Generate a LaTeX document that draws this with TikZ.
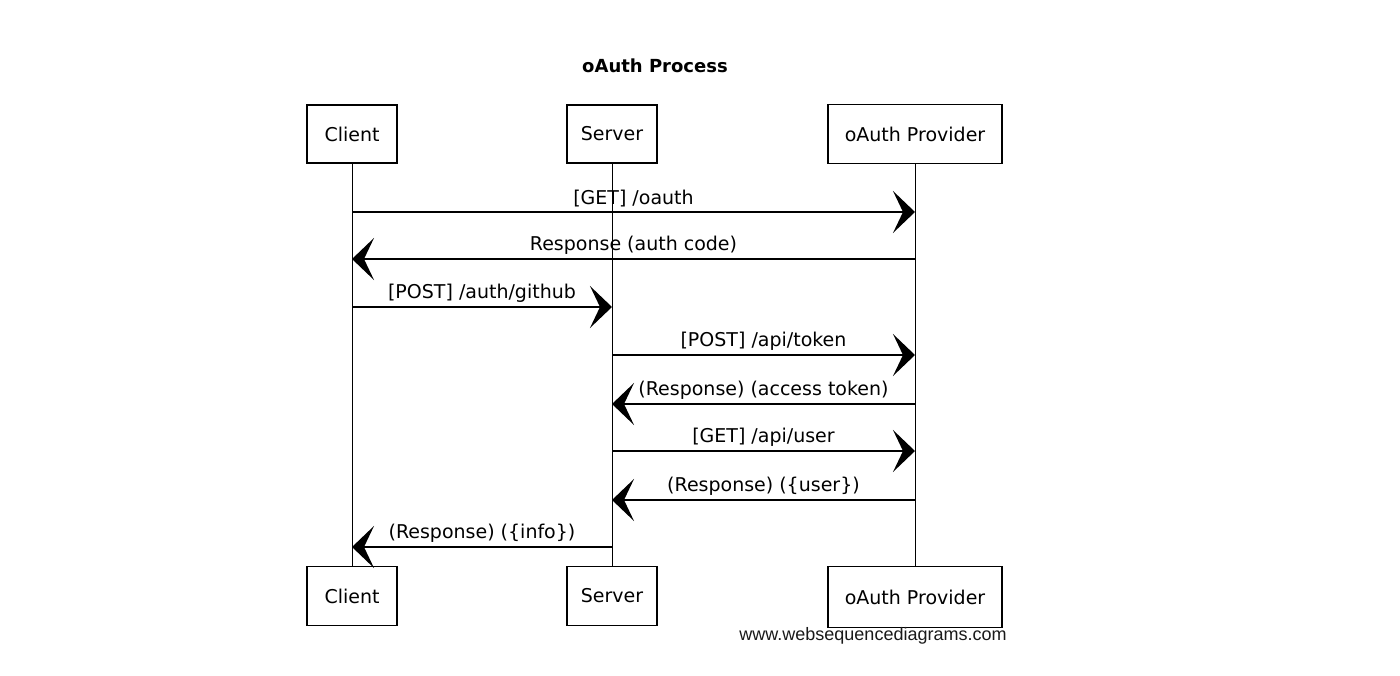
\documentclass[tikz,border=0pt]{standalone}
\usepackage{fontspec}
\usetikzlibrary{arrows.meta}
\newfontfamily\handfont{DejaVu Sans}
\newfontfamily\markfont{Liberation Sans}

\begin{document}
\begin{tikzpicture}[x=1pt,y=-1pt]
        \tikzstyle{every node}=[font=\handfont\fontsize{19}{22}\selectfont]
        \tikzstyle{actor}=[draw,line width=1.2pt,minimum height=58pt,minimum width=90pt]
        \tikzstyle{lifeline}=[line width=0.9pt]
        \tikzstyle{msg}=[line width=1.6pt,-{Stealth[length=22pt,width=42pt,inset=10pt]}]
        \tikzstyle{msglabel}=[above,inner sep=4pt]
        \useasboundingbox (0,0) rectangle (1400,676);
        \node[font=\handfont\bfseries\fontsize{18}{22}\selectfont] (title) at (655,66) {oAuth Process};
        % participants
        \node[actor] (client) at (352,134) {Client};
        \node[actor] (server) at (612,134) {Server};
        \node[actor,minimum width=174pt,minimum height=59pt] (provider) at (915,134) {oAuth Provider};
        \node[actor,minimum height=59pt] (clientb) at (352,596) {Client};
        \node[actor,minimum height=59pt] (serverb) at (612,596) {Server};
        \node[actor,minimum width=174pt,minimum height=61pt] (providerb) at (915,597) {oAuth Provider};
        \node[font=\markfont\fontsize{18}{22}\selectfont,text=black!90] (site) at (873,636) {www.websequencediagrams.com};
        \draw[lifeline] (client) -- (clientb);
        \draw[lifeline] (server) -- (serverb);
        \draw[lifeline] (provider) -- (providerb);
        % message ends on the lifelines
        \coordinate (c1) at (client |- 0,212);
        \coordinate (p1) at (provider |- 0,212);
        \coordinate (p2) at (provider |- 0,259);
        \coordinate (c2) at (client |- 0,259);
        \coordinate (c3) at (client |- 0,307);
        \coordinate (s3) at (server |- 0,307);
        \coordinate (s4) at (server |- 0,355);
        \coordinate (p4) at (provider |- 0,355);
        \coordinate (p5) at (provider |- 0,404);
        \coordinate (s5) at (server |- 0,404);
        \coordinate (s6) at (server |- 0,451);
        \coordinate (p6) at (provider |- 0,451);
        \coordinate (p7) at (provider |- 0,500);
        \coordinate (s7) at (server |- 0,500);
        \coordinate (s8) at (server |- 0,547);
        \coordinate (c8) at (client |- 0,547);
        \draw[msg] (c1) -- node[msglabel] {[GET] /oauth} (p1);
        \draw[msg] (p2) -- node[msglabel] {Response (auth code)} (c2);
        \draw[msg] (c3) -- node[msglabel] {[POST] /auth/github} (s3);
        \draw[msg] (s4) -- node[msglabel] {[POST] /api/token} (p4);
        \draw[msg] (p5) -- node[msglabel] {(Response) (access token)} (s5);
        \draw[msg] (s6) -- node[msglabel] {[GET] /api/user} (p6);
        \draw[msg] (p7) -- node[msglabel] {(Response) (\{user\})} (s7);
        \draw[msg] (s8) -- node[msglabel] {(Response) (\{info\})} (c8);
      \end{tikzpicture}
\end{document}
